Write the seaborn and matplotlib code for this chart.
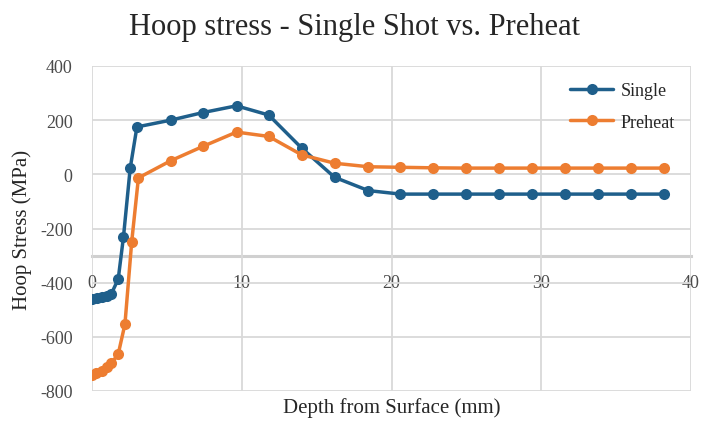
import matplotlib
matplotlib.use("Agg")
import matplotlib.pyplot as plt
import seaborn as sns
import pandas as pd

# Data
single_depth = [0, 0.35, 0.7, 1.0, 1.3, 1.75, 2.1, 2.55, 3.0, 5.25, 7.4, 9.65, 11.8, 14.0,
                16.2, 18.45, 20.6, 22.8, 25.0, 27.2, 29.4, 31.6, 33.8, 36.0, 38.2]
single_stress = [-460, -458, -454, -448, -440, -387, -232, 22, 175, 200, 228, 253, 219, 97,
                 -11, -60, -73, -73, -73, -73, -73, -73, -73, -73, -73]
preheat_depth = [0, 0.3, 0.65, 1.0, 1.3, 1.75, 2.2, 2.65, 3.1, 5.25, 7.4, 9.65, 11.8, 14.0,
                 16.2, 18.45, 20.6, 22.8, 25.0, 27.2, 29.4, 31.6, 33.8, 36.0, 38.2]
preheat_stress = [-741, -734, -725, -713, -697, -664, -553, -250, -13, 50, 103, 156, 140, 72,
                  41, 28, 26, 24, 23, 23, 23, 23, 23, 23, 23]
series_names = ["Single", "Preheat"]
colors = ["#1F5F8B", "#ED7D31"]
x_ticks = [0, 10, 20, 30, 40]
y_ticks = [-800, -600, -400, -200, 0, 200, 400]

df = pd.concat([
    pd.DataFrame({"Depth": single_depth, "Stress": single_stress, "Series": series_names[0]}),
    pd.DataFrame({"Depth": preheat_depth, "Stress": preheat_stress, "Series": series_names[1]}),
], ignore_index=True)

sns.set_theme(style="white")
plt.rcParams["font.family"] = ["Liberation Serif", "DejaVu Serif"]
plt.rcParams["axes.unicode_minus"] = False

fig = plt.figure(figsize=(7.02, 4.31), dpi=100)
ax = fig.add_axes([92 / 702, 39 / 431, 599 / 702, 325 / 431])

sns.lineplot(data=df, x="Depth", y="Stress", hue="Series", style="Series",
             markers=["o", "o"], dashes=False, palette=colors, sort=False,
             linewidth=2.5, markersize=8, markeredgewidth=0, ax=ax)

ax.set_xlim(0, 40)
ax.set_ylim(-800, 400)
ax.set_xticks(x_ticks)
ax.set_yticks(y_ticks)
ax.grid(True, color="#D9D9D9", linewidth=1.3)
ax.set_axisbelow(True)

for s in ["top", "right", "left"]:
    ax.spines[s].set_visible(False)
ax.spines["bottom"].set_position(("data", -300))
ax.spines["bottom"].set_color("#D0D0D0")
ax.spines["bottom"].set_linewidth(2.2)
ax.spines["bottom"].set_zorder(0.5)

ax.tick_params(axis="x", length=0, pad=13, labelsize=13, labelcolor="#4A4A4A")
ax.tick_params(axis="y", length=0, pad=14, labelsize=13, labelcolor="#4A4A4A")

ax.set_xlabel("Depth from Surface (mm)", fontsize=15, color="#262626")
ax.xaxis.set_label_coords(0.5, -0.02)
ax.set_ylabel("Hoop Stress (MPa)", fontsize=15, color="#262626")
ax.yaxis.set_label_coords(-0.1, 0.5)

fig.text(0.505, 1 - 27 / 431, "Hoop stress - Single Shot vs. Preheat",
         ha="center", va="center", fontsize=22, color="#262626")

leg = ax.legend(loc="upper right", bbox_to_anchor=(1.0, 1.0), frameon=False,
                fontsize=13, handlelength=2.4, handletextpad=0.4, labelspacing=0.8,
                title=None)
for t in leg.get_texts():
    t.set_color("#262626")

fig.savefig("out.png", dpi=100)
